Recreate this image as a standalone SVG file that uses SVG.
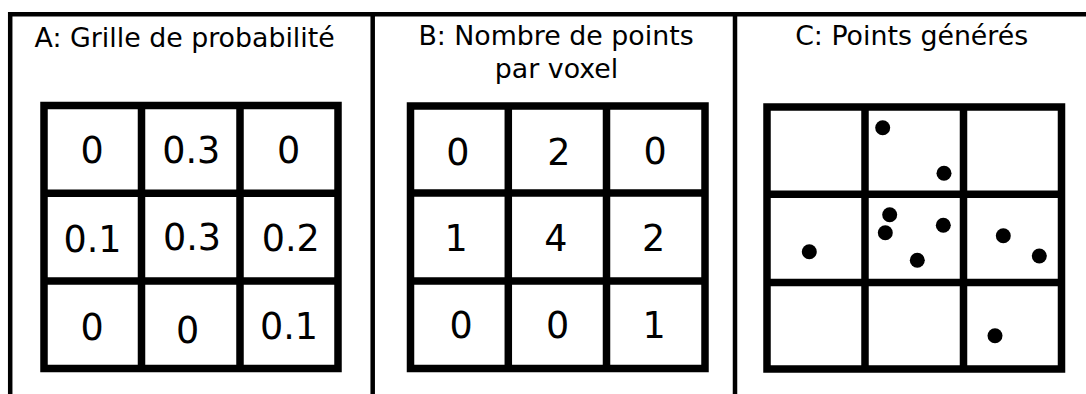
<svg xmlns="http://www.w3.org/2000/svg" width="1086" height="394" viewBox="0 0 1086 394">
<style>
.frame{fill:none;stroke:#000;stroke-width:4.5}
.grid{fill:none;stroke:#000;stroke-width:7.5;stroke-linecap:square}
.title{font-family:"DejaVu Sans",sans-serif;font-size:26.8px;fill:#000;text-anchor:middle}
.num{font-family:"DejaVu Sans",sans-serif;font-size:36.5px;fill:#000;text-anchor:middle}
.dot{fill:#000}
</style>
<rect width="1086" height="394" fill="#fff"/>
<g id="frame">
<path class="frame" d="M10.2 398 V14.3 H1090 M372.7 14.3 V398 M735 14.3 V398"/>
</g>
<g id="panelA">
<text class="title" x="184.7" y="46.7">A: Grille de probabilité</text>
<path class="grid" d="M44 105.5 H338 V368.5 H44 Z M141.5 105.5 V368.5 M240 105.5 V368.5 M44 193.3 H338 M44 281 H338"/>
<text class="num" x="92" y="163.3">0</text>
<text class="num" x="191.2" y="163.3">0.3</text>
<text class="num" x="288.5" y="163.3">0</text>
<text class="num" x="92.5" y="251.5">0.1</text>
<text class="num" x="192" y="250.3">0.3</text>
<text class="num" x="290.8" y="250.8">0.2</text>
<text class="num" x="92" y="340">0</text>
<text class="num" x="187.5" y="343.3">0</text>
<text class="num" x="289" y="339.3">0.1</text>
</g>
<g id="panelB">
<text class="title" x="556" y="45">B: Nombre de points</text>
<text class="title" x="556.5" y="78">par voxel</text>
<path class="grid" d="M410.5 106 H705 V368.5 H410.5 Z M508.3 106 V368.5 M606.5 106 V368.5 M410.5 193 H705 M410.5 281 H705"/>
<text class="num" x="457.8" y="165">0</text>
<text class="num" x="558.8" y="165">2</text>
<text class="num" x="655" y="163.5">0</text>
<text class="num" x="456" y="250.7">1</text>
<text class="num" x="555.8" y="250.7">4</text>
<text class="num" x="653.7" y="250.7">2</text>
<text class="num" x="461" y="338.3">0</text>
<text class="num" x="557.5" y="338.3">0</text>
<text class="num" x="654" y="338.3">1</text>
</g>
<g id="panelC">
<text class="title" x="911.7" y="45">C: Points générés</text>
<path class="grid" d="M767 107 H1061.5 V369 H767 Z M865 107 V369 M963.5 107 V369 M767 194.3 H1061.5 M767 282.5 H1061.5"/>
<circle class="dot" cx="882.7" cy="127.7" r="7.5"/>
<circle class="dot" cx="944" cy="173.3" r="7.5"/>
<circle class="dot" cx="889.7" cy="214.7" r="7.5"/>
<circle class="dot" cx="885.3" cy="232.7" r="7.5"/>
<circle class="dot" cx="943.3" cy="225.3" r="7.5"/>
<circle class="dot" cx="917.3" cy="260.3" r="7.5"/>
<circle class="dot" cx="809.3" cy="251.7" r="7.5"/>
<circle class="dot" cx="1003.3" cy="235.7" r="7.5"/>
<circle class="dot" cx="1039.3" cy="256" r="7.5"/>
<circle class="dot" cx="995" cy="335.7" r="7.5"/>
</g>
</svg>
